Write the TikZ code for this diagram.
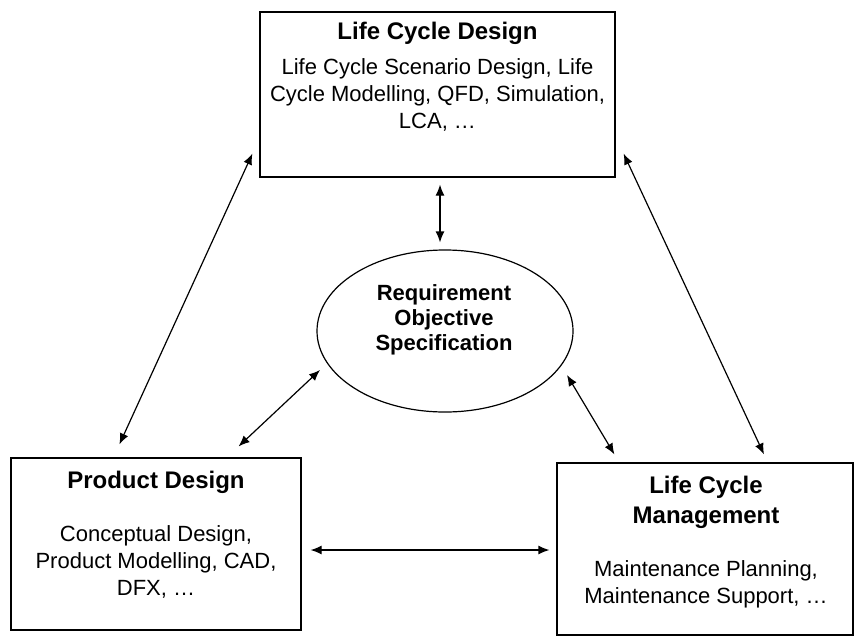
\documentclass[tikz,border=0pt]{standalone}
\usepackage{fontspec}
\setmainfont{Liberation Sans}
\usetikzlibrary{arrows.meta, shapes.geometric}

\begin{document}
\begin{tikzpicture}[
        x=0.5pt, y=-0.5pt,
        >={Latex[length=5.5pt, width=4.5pt]},
        framebox/.style={rectangle, draw, line width=0.6pt, inner sep=0pt},
        goalshape/.style={ellipse, draw, line width=0.6pt, inner sep=0pt,
                minimum width=128pt, minimum height=81pt},
        headtext/.style={font=\fontsize{12}{15}\selectfont\bfseries, align=center,
                anchor=base, inner sep=0pt},
        bodytext/.style={font=\fontsize{11}{13.5}\selectfont, align=center,
                anchor=base, inner sep=0pt},
        goaltext/.style={font=\fontsize{11}{12.5}\selectfont\bfseries, align=center,
                anchor=base, inner sep=0pt},
        biarrow/.style={<->, line width=0.6pt}, ]

        \useasboundingbox (0,0) rectangle (855,643);

        % === LIFE CYCLE DESIGN (Top) ===
        \node[framebox, minimum width=177.5pt, minimum height=82.5pt] (lcd) at (437.5,94.5) {};
        \node[headtext] (lcdhead) at (437.5,39) {Life Cycle Design};
        \node[bodytext] (lcdbody) at (437.5,128) {Life Cycle Scenario Design, Life\\Cycle Modelling, QFD, Simulation,\\LCA, \ldots};

        % === REQUIREMENTS (Centre) ===
        \node[goalshape] (res) at (445,331) {};
        \node[goaltext] (restext) at (444,350) {Requirement\\Objective\\Specification};

        % === PRODUCT DESIGN (Bottom Left) ===
        \node[framebox, minimum width=145pt, minimum height=86pt] (pd) at (156,544) {};
        \node[headtext] (pdhead) at (156,488) {Product Design};
        \node[bodytext] (pdbody) at (156,595) {Conceptual Design,\\Product Modelling, CAD,\\DFX, \ldots};

        % === LIFE CYCLE MANAGEMENT (Bottom Right) ===
        \node[framebox, minimum width=148pt, minimum height=86pt] (lcm) at (705,549) {};
        \node[headtext] (lcmhead) at (706,523) {Life Cycle\\Management};
        \node[bodytext] (lcmbody) at (706,603) {Maintenance Planning,\\Maintenance Support, \ldots};

        % Connections
        \draw[biarrow] ([shift={(-7,-24)}]lcd.south west) -- ([shift={(109,-13)}]pd.north west);
        \draw[biarrow] ([shift={(8,-24)}]lcd.south east) -- ([shift={(59,-8)}]lcm.north);
        \draw[biarrow] ([shift={(2.5,7)}]lcd.south) -- ([shift={(-5,-7)}]res.north);
        \draw[biarrow] ([shift={(-125,39)}]res.center) -- ([shift={(-63,-11)}]pd.north east);
        \draw[biarrow] ([shift={(122,44)}]res.center) -- ([shift={(58,-8)}]lcm.north west);
        \draw[biarrow] ([shift={(9,6)}]pd.east) -- ([shift={(-7,1)}]lcm.west);
\end{tikzpicture}
\end{document}
